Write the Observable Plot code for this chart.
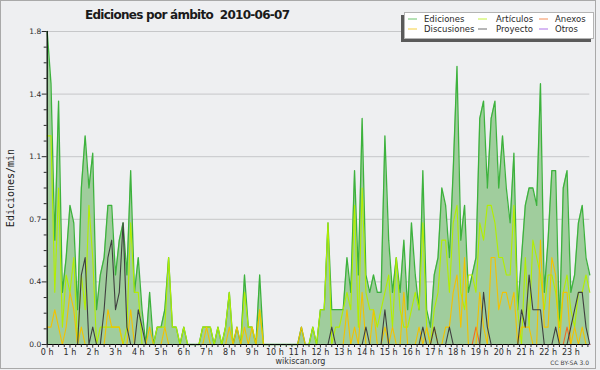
<!DOCTYPE html>
<html><head><meta charset="utf-8">
<script src="https://cdn.jsdelivr.net/npm/d3@7"></script>
<script src="https://cdn.jsdelivr.net/npm/@observablehq/plot@0.6"></script>
<style>
html,body{margin:0;padding:0;background:#eeeff1;}
#chart{width:600px;height:370px;}
svg text{white-space:pre;}
</style></head><body><div id="chart"></div>
<script>
// 10-minute slots (Ediciones/min), 144 per series
const ediciones = [
1.8,1.5,0.6,1.4,0.3,0.5,0.8,0.7,0.2,0.9,
1.2,0.9,1.1,0.2,0.4,0.5,0.8,0.8,0.4,0.6,
0.7,0.4,1.0,0.3,0.5,0.2,0,0.3,0,0.1,
0.1,0.2,0.5,0.1,0.1,0,0.1,0,0,0,
0,0.1,0.1,0.1,0,0.1,0,0.1,0.3,0,
0.1,0,0.4,0.1,0.1,0,0.4,0,0,0,
0,0,0,0,0,0,0,0.1,0,0,
0.1,0,0.2,0.2,0.7,0.2,0.2,0.2,0.2,0.5,
0.3,1.0,0.4,1.3,0.4,0.3,0.4,0.3,0.3,1.2,
0.6,0.3,0.5,0.3,0.6,0.2,0.7,0.4,0.2,1.0,
0.2,0.1,0.4,0.5,0.9,0.8,0.5,1.0,1.6,0.6,
0.8,0.3,0.4,0.5,1.3,1.4,0.9,1.3,1.4,0.9,
1.2,0.9,0.7,1.1,0.2,0.5,0.8,0.9,0.9,0.8,
1.5,0.3,0.6,1.0,1.0,0.1,0.9,1.0,0.3,0.4,
0.7,0.8,0.5,0.4];
const articulos = [
1.2,1.2,0.3,0.9,0.1,0.4,0.3,0.5,0,0.4,
0.2,0.8,0.5,0,0.1,0.1,0.1,0.1,0.1,0.1,
0,0.1,0.7,0.3,0.3,0,0,0,0,0.1,
0.1,0.1,0.5,0.1,0.1,0,0.1,0,0,0,
0,0.1,0.1,0.1,0,0.1,0,0.1,0.3,0,
0,0,0.3,0.1,0.1,0,0.2,0,0,0,
0,0,0,0,0,0,0,0,0,0,
0.1,0,0.2,0.2,0.7,0,0.1,0.1,0.2,0.3,
0.2,0.8,0.1,0.9,0.3,0.2,0.2,0.1,0.2,0.3,
0.4,0.1,0.5,0.2,0.1,0.1,0.2,0.3,0.2,0.7,
0.1,0,0.2,0.3,0.6,0.6,0.3,0.7,0.8,0.3,
0.2,0.4,0.4,0.3,0.7,0.6,0.8,0.8,0.7,0.5,
0.5,0.4,0.4,0.8,0.2,0,0.5,0.1,0.6,0.5,
0.4,0.2,0.4,0.4,0.3,0.1,0.3,0.4,0.2,0.1,
0.3,0.3,0.4,0.3];
const anexos = [
0,0,0,0,0,0,0,0,0,0,
0,0,0,0,0,0,0,0,0,0,
0,0,0,0,0,0,0,0,0,0,
0,0,0,0,0,0,0,0,0,0,
0,0,0,0,0,0,0,0,0,0,
0,0,0,0,0,0,0,0,0,0,
0,0,0,0,0,0,0,0,0,0,
0,0,0,0,0,0,0,0,0,0,
0,0,0,0,0,0,0,0,0,0,
0,0,0,0,0,0,0,0,0,0,
0,0,0,0,0,0,0,0,0,0,
0,0,0,0.1,0,0,0,0,0,0,
0,0,0,0,0,0,0,0,0,0,
0,0,0,0,0,0,0,0.1,0,0,
0,0,0,0];
const discusiones = [
0.1,0.1,0.2,0.1,0,0.1,0.3,0.2,0,0.1,
0,0,0,0,0,0,0.2,0.1,0.1,0.1,
0,0,0.2,0,0,0,0,0.1,0,0,
0,0.1,0,0,0,0,0,0,0,0,
0,0,0.1,0,0,0,0,0,0.1,0,
0.1,0,0.1,0,0.1,0,0.2,0,0,0,
0,0,0,0,0,0,0,0.1,0,0,
0,0,0,0,0,0,0,0,0,0.2,
0,0.1,0,0.3,0,0,0.2,0,0,0.1,
0,0.1,0,0,0.3,0,0,0,0.1,0,
0.1,0,0.1,0,0,0.1,0.1,0.3,0.4,0.1,
0.5,0,0,0,0.3,0.1,0,0.5,0.5,0.2,
0.3,0.3,0.2,0.3,0,0.1,0.1,0.1,0,0,
0.6,0.1,0.1,0.5,0.4,0,0.3,0.3,0,0.1,
0,0.1,0,0];
const proyecto = [
0,0,0,0,0,0,0,0,0,0.4,
0.5,0,0.1,0,0,0.2,0.5,0.6,0.2,0.3,
0.7,0.1,0,0,0.2,0.1,0,0,0,0,
0,0,0,0,0,0,0,0,0,0,
0,0,0,0,0,0,0,0,0,0,
0,0,0,0,0,0,0,0,0,0,
0,0,0,0,0,0,0,0,0,0,
0,0,0,0,0,0.1,0,0,0,0,
0,0,0,0,0.1,0,0,0,0,0.2,
0,0,0,0,0,0,0,0,0,0.1,
0,0,0.1,0,0,0,0.1,0,0,0,
0,0,0,0,0,0.3,0.1,0,0,0,
0,0,0,0,0,0.2,0.1,0.4,0.2,0.2,
0.2,0,0,0,0.1,0,0,0,0.1,0.2,
0.3,0.3,0.1,0];
const otros = [
0,0,0,0,0,0,0,0,0,0,
0,0,0,0,0,0,0,0,0,0,
0,0,0,0,0,0,0,0,0,0,
0,0,0,0,0,0,0,0,0,0,
0,0,0,0,0,0,0,0,0,0,
0,0,0,0,0,0,0,0,0,0,
0,0,0,0,0,0,0,0,0,0,
0,0,0,0,0,0,0,0,0,0,
0,0,0,0,0,0,0,0,0,0,
0,0,0,0,0,0,0,0,0,0,
0,0,0,0,0,0,0,0,0,0,
0,0,0,0,0,0,0,0,0,0,
0,0,0,0,0,0,0,0,0,0,
0,0,0,0,0,0,0,0,0,0,
0,0,0,0];

const hourTicks = [0,1,2,3,4,5,6,7,8,9,10,11,12,13,14,15,16,17,18,19,20,21,22,23];
const hourLabels = ["0 h","1 h","2 h","3 h","4 h","5 h","6 h","7 h","8 h","9 h","10 h","11 h","12 h","13 h","14 h","15 h","16 h","17 h","18 h","19 h","20 h","21 h","22 h","23 h"];
const yTicks = [0, 0.36, 0.72, 1.08, 1.44, 1.8];
const yTickLabels = ["0.0","0.4","0.7","1.1","1.4","1.8"];
const legendNames = ["Ediciones","Artículos","Anexos","Discusiones","Proyecto","Otros"];
const titleText = "Ediciones por ámbito  2010-06-07";

// styles (kept apart from the data)
const colors = {
  edFill: "#a0cd9d", edLine: "#3db23d",
  articulos: "#b2ee00", anexos: "#f26a22", discusiones: "#f3c200",
  proyecto: "#3f3f3f", otros: "#9444e0"
};
const legendColors = [colors.edLine, colors.articulos, colors.anexos, colors.discusiones, colors.proyecto, colors.otros];

const slotHours = ediciones.map((_, i) => i / 6);
const rows = ediciones.map((v, i) => ({
  t: slotHours[i], ediciones: v, articulos: articulos[i], anexos: anexos[i],
  discusiones: discusiones[i], proyecto: proyecto[i], otros: otros[i]
}));

const minorY = d3.range(0, 1.8001, 0.09).filter(v => !yTicks.some(t => Math.abs(t - v) < 1e-6));
const minorX = d3.range(0, 23.84, 0.25).filter(v => Math.abs(v - Math.round(v)) > 1e-6);
const lastT = slotHours[slotHours.length - 1];

const line = (key, stroke, w) => Plot.lineY(rows, {x: "t", y: key, stroke, strokeWidth: w});

const svg = Plot.plot({
  width: 600, height: 370,
  marginLeft: 46.7, marginRight: 10.7, marginTop: 31, marginBottom: 26,
  style: {background: "transparent", fontFamily: "DejaVu Sans, sans-serif", fontSize: "8px", color: "#2a2a2a"},
  x: {domain: [0, lastT]},
  y: {domain: [0, 1.8]},
  marks: [
    Plot.gridY(yTicks.slice(1), {stroke: "#c6c7c9", strokeOpacity: 1, strokeWidth: 1}),
    Plot.areaY(rows, {x: "t", y: "ediciones", fill: colors.edFill, fillOpacity: 1}),
    line("ediciones", colors.edLine, 1.3),
    line("articulos", colors.articulos, 1.1),
    line("anexos", colors.anexos, 1.1),
    line("discusiones", colors.discusiones, 1.1),
    line("proyecto", colors.proyecto, 1.1),
    line("otros", colors.otros, 1),
    Plot.ruleY([0], {stroke: "#000", strokeWidth: 1.2}),
    Plot.ruleX([0], {stroke: "#000", strokeWidth: 1.2}),
    Plot.axisY({ticks: minorY, tickSize: 3, tickFormat: () => "", label: null}),
    Plot.axisY({ticks: yTicks, tickSize: 5, tickPadding: 1, tickFormat: (d, i) => yTickLabels[i], label: null, fontSize: 7.5}),
    Plot.axisX({ticks: minorX, tickSize: 3, tickFormat: () => "", label: null}),
    Plot.axisX({ticks: hourTicks, tickSize: 3.5, tickPadding: 1.5, tickFormat: (d, i) => hourLabels[i], label: null})
  ]
});
document.getElementById("chart").appendChild(svg);

const s = d3.select(svg);
// outer frame
s.insert("rect", ":first-child").attr("x", 0.5).attr("y", 0.5).attr("width", 595).attr("height", 368)
  .attr("fill", "#eeeff1").attr("stroke", "#a9a9a9");
// title
s.append("text").attr("x", 85).attr("y", 18.5).attr("text-anchor", "start").attr("font-family", "DejaVu Sans, sans-serif")
  .attr("font-weight", "bold").attr("font-size", 12).attr("fill", "#1a1a1a")
  .attr("textLength", 205).attr("lengthAdjust", "spacing").text(titleText);
// y label
s.append("text").attr("transform", "translate(13.5,188) rotate(-90)").attr("text-anchor", "middle")
  .attr("font-family", "DejaVu Sans Mono, monospace").attr("font-size", 10).attr("fill", "#1a1a1a")
  .text("Ediciones/min");
// footer
s.append("text").attr("x", 300.5).attr("y", 364).attr("text-anchor", "middle")
  .attr("font-size", 8).attr("fill", "#333").text("wikiscan.org");
s.append("text").attr("x", 589).attr("y", 365).attr("text-anchor", "end")
  .attr("font-size", 6).attr("fill", "#444").text("CC BY-SA 3.0");
// legend
const lg = s.append("g");
lg.append("rect").attr("x", 401).attr("y", 15).attr("width", 190).attr("height", 27).attr("fill", "#5a5a5a");
lg.append("rect").attr("x", 404.5).attr("y", 12.5).attr("width", 189).attr("height", 26).attr("fill", "#ffffff").attr("stroke", "#b4b4b4");
const colX = [408, 478, 539];
const textX = [424, 496, 555];
const rowY = [19, 29];
const order = [[0,1,2],[3,4,5]];
order.forEach((r, ri) => r.forEach((k, ci) => {
  lg.append("line").attr("x1", colX[ci]).attr("x2", colX[ci] + 9).attr("y1", rowY[ri]).attr("y2", rowY[ri])
    .attr("stroke", legendColors[k]).attr("stroke-width", 1).attr("opacity", 0.75);
  lg.append("text").attr("x", textX[ci]).attr("y", rowY[ri] + 2.8).attr("text-anchor", "start").attr("font-size", 8.5)
    .attr("fill", "#2a2a2a").text(legendNames[k]);
}));
</script>
</body></html>
